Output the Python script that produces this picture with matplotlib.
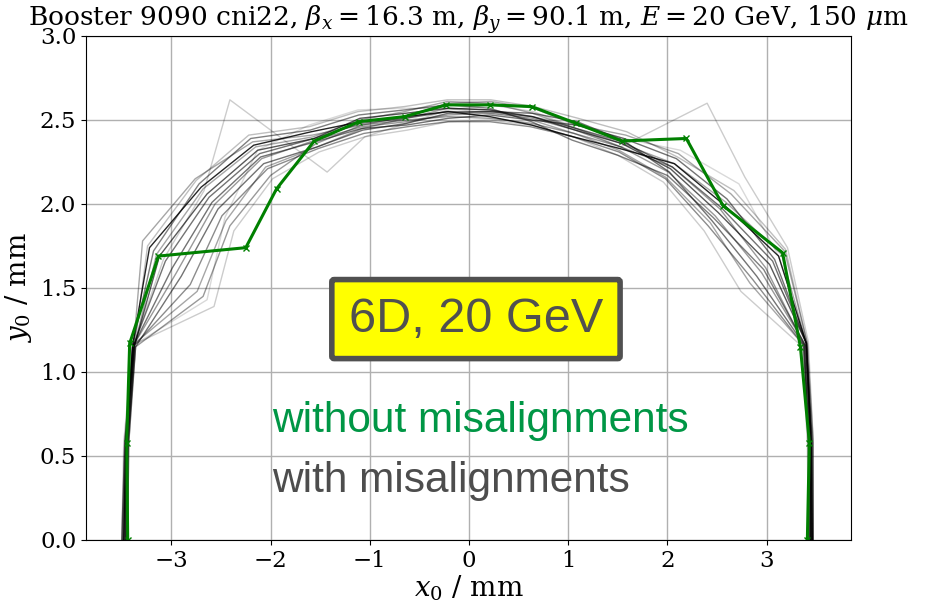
import numpy as np
import matplotlib
matplotlib.use("Agg")
from matplotlib import pyplot as plt

# DA boundary without misalignments (mm)
gx = [-3.44, -3.45, -3.42, -3.13, -2.25, -1.94, -1.56, -1.11, -0.65, -0.23,
      0.21, 0.63, 1.08, 1.54, 2.19, 2.56, 3.16, 3.34, 3.43, 3.41]
gy = [0.0, 0.58, 1.17, 1.69, 1.74, 2.09, 2.375, 2.49, 2.52, 2.59,
      2.59, 2.58, 2.48, 2.375, 2.39, 1.99, 1.71, 1.15, 0.58, 0.0]

# DA boundaries with misalignments, one row per seed (mm)
seeds_x = [
    [-3.48, -3.46, -3.39, -3.22, -2.70, -2.17, -1.59, -1.09, -0.64, -0.21, 0.21, 0.63, 1.05, 1.52, 2.07, 2.56, 3.12, 3.40, 3.45, 3.46],
    [-3.45, -3.44, -3.37, -3.12, -2.64, -2.13, -1.56, -1.10, -0.64, -0.21, 0.21, 0.64, 1.07, 1.54, 2.03, 2.51, 3.03, 3.40, 3.44, 3.44],
    [-3.50, -3.47, -3.38, -2.99, -2.59, -2.10, -1.55, -1.08, -0.63, -0.21, 0.21, 0.63, 1.08, 1.56, 2.09, 2.60, 3.08, 3.40, 3.46, 3.47],
    [-3.44, -3.43, -3.36, -2.90, -2.53, -2.07, -1.53, -1.07, -0.63, -0.21, 0.21, 0.64, 1.09, 1.55, 2.02, 2.45, 2.90, 3.38, 3.43, 3.45],
    [-3.47, -3.45, -3.39, -3.18, -2.72, -2.20, -1.60, -1.11, -0.65, -0.21, 0.21, 0.63, 1.04, 1.50, 2.00, 2.46, 2.97, 3.39, 3.44, 3.46],
    [-3.49, -3.46, -3.37, -2.81, -2.49, -2.03, -1.52, -1.06, -0.62, -0.21, 0.21, 0.62, 1.05, 1.51, 1.98, 2.41, 2.86, 3.37, 3.43, 3.44],
    [-3.46, -3.45, -3.38, -3.29, -2.76, -2.18, -1.58, -1.08, -0.64, -0.22, 0.22, 0.65, 1.08, 1.58, 2.11, 2.64, 3.18, 3.41, 3.47, 3.47],
    [-3.48, -3.44, -3.36, -2.68, -2.41, -2.00, -1.54, -1.08, -0.63, -0.21, 0.21, 0.63, 1.06, 1.53, 2.05, 2.53, 2.99, 3.38, 3.42, 3.43],
    [-3.45, -3.45, -3.38, -3.08, -2.67, -2.41, -1.43, -1.05, -0.63, -0.21, 0.21, 0.65, 1.08, 1.53, 2.40, 2.78, 3.21, 3.42, 3.47, 3.46],
    [-3.50, -3.48, -3.39, -2.57, -2.37, -1.98, -1.51, -1.05, -0.62, -0.21, 0.21, 0.63, 1.05, 1.50, 1.96, 2.37, 2.74, 3.36, 3.41, 3.42],
    [-3.46, -3.44, -3.37, -3.15, -2.68, -2.15, -1.57, -1.10, -0.65, -0.22, 0.22, 0.64, 1.07, 1.54, 2.07, 2.59, 3.15, 3.40, 3.45, 3.45],
    [-3.47, -3.46, -3.38, -2.95, -2.56, -2.09, -1.55, -1.08, -0.63, -0.21, 0.21, 0.64, 1.07, 1.53, 2.01, 2.48, 2.95, 3.39, 3.44, 3.44],
    [-3.49, -3.47, -3.39, -2.74, -2.45, -2.05, -1.53, -1.07, -0.64, -0.21, 0.21, 0.63, 1.06, 1.51, 1.98, 2.43, 2.83, 3.37, 3.42, 3.43],
    [-3.44, -3.43, -3.37, -3.24, -2.75, -2.22, -1.61, -1.12, -0.65, -0.22, 0.22, 0.65, 1.10, 1.59, 2.10, 2.67, 3.19, 3.41, 3.46, 3.46],
    [-3.48, -3.45, -3.38, -2.64, -2.46, -2.13, -1.61, -1.12, -0.65, -0.21, 0.21, 0.64, 1.08, 1.56, 2.13, 2.72, 3.12, 3.40, 3.45, 3.45],
    [-3.46, -3.45, -3.38, -3.06, -2.62, -2.11, -1.56, -1.09, -0.64, -0.21, 0.21, 0.64, 1.08, 1.55, 2.05, 2.54, 3.06, 3.40, 3.45, 3.45],
]
seeds_y = [
    [0.0, 0.58, 1.16, 1.74, 2.10, 2.35, 2.43, 2.49, 2.52, 2.55, 2.52, 2.47, 2.40, 2.33, 2.24, 2.00, 1.69, 1.17, 0.58, 0.0],
    [0.0, 0.57, 1.16, 1.69, 2.06, 2.32, 2.39, 2.51, 2.54, 2.57, 2.56, 2.52, 2.44, 2.36, 2.21, 1.95, 1.64, 1.17, 0.57, 0.0],
    [0.0, 0.58, 1.16, 1.62, 2.01, 2.28, 2.37, 2.45, 2.47, 2.51, 2.53, 2.50, 2.47, 2.39, 2.27, 2.03, 1.67, 1.17, 0.58, 0.0],
    [0.0, 0.57, 1.15, 1.57, 1.97, 2.24, 2.34, 2.44, 2.48, 2.54, 2.55, 2.54, 2.49, 2.38, 2.19, 1.90, 1.57, 1.16, 0.57, 0.0],
    [0.0, 0.58, 1.16, 1.72, 2.12, 2.39, 2.44, 2.53, 2.56, 2.59, 2.57, 2.49, 2.38, 2.29, 2.17, 1.92, 1.61, 1.16, 0.57, 0.0],
    [0.0, 0.58, 1.16, 1.52, 1.93, 2.21, 2.33, 2.42, 2.46, 2.49, 2.49, 2.46, 2.40, 2.31, 2.15, 1.87, 1.55, 1.16, 0.57, 0.0],
    [0.0, 0.58, 1.16, 1.78, 2.15, 2.37, 2.41, 2.47, 2.52, 2.60, 2.61, 2.57, 2.47, 2.41, 2.30, 2.06, 1.72, 1.17, 0.58, 0.0],
    [0.0, 0.57, 1.15, 1.45, 1.87, 2.17, 2.36, 2.47, 2.50, 2.52, 2.51, 2.48, 2.42, 2.34, 2.22, 1.97, 1.62, 1.16, 0.57, 0.0],
    [0.0, 0.58, 1.16, 1.67, 2.08, 2.62, 2.19, 2.40, 2.48, 2.56, 2.59, 2.55, 2.45, 2.34, 2.60, 2.16, 1.74, 1.18, 0.58, 0.0],
    [0.0, 0.58, 1.16, 1.39, 1.84, 2.15, 2.31, 2.40, 2.44, 2.49, 2.50, 2.47, 2.40, 2.29, 2.13, 1.84, 1.48, 1.15, 0.57, 0.0],
    [0.0, 0.57, 1.16, 1.70, 2.09, 2.34, 2.40, 2.50, 2.55, 2.61, 2.60, 2.54, 2.45, 2.36, 2.24, 2.01, 1.70, 1.17, 0.58, 0.0],
    [0.0, 0.58, 1.16, 1.59, 2.00, 2.27, 2.38, 2.46, 2.49, 2.53, 2.54, 2.51, 2.44, 2.34, 2.19, 1.93, 1.59, 1.16, 0.57, 0.0],
    [0.0, 0.58, 1.16, 1.48, 1.90, 2.22, 2.34, 2.45, 2.51, 2.57, 2.56, 2.50, 2.42, 2.32, 2.16, 1.89, 1.53, 1.16, 0.57, 0.0],
    [0.0, 0.57, 1.16, 1.75, 2.14, 2.41, 2.46, 2.55, 2.58, 2.62, 2.62, 2.58, 2.51, 2.43, 2.28, 2.08, 1.73, 1.17, 0.58, 0.0],
    [0.0, 0.58, 1.16, 1.43, 1.92, 2.32, 2.47, 2.56, 2.57, 2.57, 2.54, 2.52, 2.47, 2.39, 2.32, 2.12, 1.69, 1.17, 0.58, 0.0],
    [0.0, 0.58, 1.16, 1.66, 2.04, 2.30, 2.39, 2.48, 2.51, 2.55, 2.55, 2.52, 2.45, 2.37, 2.22, 1.98, 1.66, 1.17, 0.58, 0.0],
]
seed_alpha = [0.85, 0.65, 0.55, 0.55, 0.5, 0.45, 0.35, 0.4, 0.2, 0.2, 0.35, 0.4, 0.35, 0.25, 0.15, 0.55]

plt.rcParams['font.family'] = 'DejaVu Serif'
plt.rcParams['mathtext.fontset'] = 'dejavuserif'

fig = plt.figure(figsize=(9.36, 6.01), dpi=100)
ax = fig.add_axes([0.0919, 0.1015, 0.8173, 0.8386])

for x, y, a in zip(seeds_x, seeds_y, seed_alpha):
    ax.plot(x, y, color='k', lw=1, alpha=a)

ax.plot(gx, gy, color='green', lw=2.2, marker='x', ms=5)

ax.set_xlim(-3.86, 3.85)
ax.set_ylim(0, 3.0)
ax.set_yticks(np.arange(0, 3.01, 0.5))
ax.grid(True, color='#b0b0b0', lw=1)
ax.tick_params(labelsize=16.5)
ax.set_xlabel(r'$x_0$ / mm', fontsize=20, labelpad=1)
ax.set_ylabel(r'$y_0$ / mm', fontsize=20)
ax.set_title(r'Booster 9090 cni22, $\beta_x = 16.3$ m, $\beta_y = 90.1$ m, $E = 20$ GeV, 150 $\mu$m',
             fontsize=19, pad=6)

ax.text(0.07, 1.315, '6D, 20 GeV', fontsize=35, color='#505050', family='Liberation Sans',
        ha='center', va='center',
        bbox=dict(boxstyle='round,pad=0.35,rounding_size=0.05', fc='yellow', ec='#505050', lw=4))
ax.text(-1.98, 0.71, 'without misalignments', fontsize=30.5, color='#009645',
        family='Liberation Sans', va='center')
ax.text(-1.98, 0.35, 'with misalignments', fontsize=30.5, color='#4d4d4d',
        family='Liberation Sans', va='center')

fig.savefig('out.png', dpi=100)
